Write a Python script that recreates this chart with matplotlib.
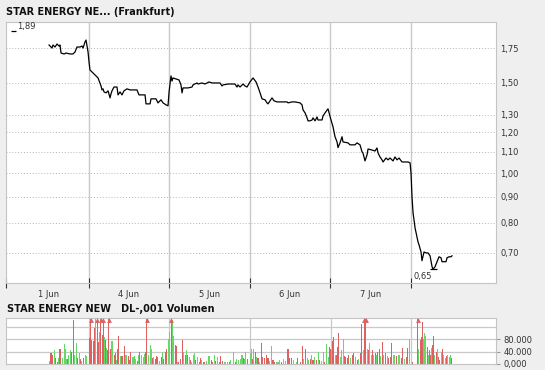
import matplotlib
matplotlib.use('Agg')
import matplotlib.pyplot as plt
from matplotlib.ticker import FixedLocator, NullLocator

plt.rcParams['font.family'] = 'DejaVu Sans'

# time axis in trading days (0 = start of 1 Jun)
day_labels = ['1 Jun', '4 Jun', '5 Jun', '6 Jun', '7 Jun']
day_edges = [1, 2, 3, 4, 5]

price_t = [0.509, 0.546, 0.558, 0.583, 0.608, 0.633, 0.645, 0.658, 0.695, 0.720,
           0.769, 0.806, 0.831, 0.856, 0.893, 0.918, 0.931, 0.955, 0.968, 0.980,
           0.993, 1.005, 1.017, 1.042, 1.067, 1.092, 1.117, 1.141, 1.154, 1.166,
           1.179, 1.191, 1.216, 1.241, 1.266, 1.278, 1.290, 1.315, 1.352, 1.365,
           1.390, 1.414, 1.439, 1.476, 1.514, 1.600, 1.625, 1.700, 1.712, 1.762,
           1.774, 1.836, 1.861, 1.898, 1.923, 1.960, 1.985, 1.998, 2.010, 2.022,
           2.035, 2.047, 2.084, 2.122, 2.146, 2.159, 2.171, 2.233, 2.283, 2.295,
           2.345, 2.357, 2.407, 2.444, 2.494, 2.531, 2.630, 2.655, 2.667, 2.730,
           2.816, 2.841, 2.854, 2.878, 2.916, 2.940, 2.965, 3.002, 3.040, 3.077,
           3.102, 3.127, 3.151, 3.189, 3.213, 3.226, 3.251, 3.275, 3.300, 3.337,
           3.412, 3.462, 3.474, 3.524, 3.561, 3.623, 3.648, 3.660, 3.685, 3.710,
           3.722, 3.747, 3.772, 3.784, 3.809, 3.834, 3.846, 3.896, 3.908, 3.933,
           3.970, 3.983, 4.007, 4.032, 4.057, 4.082, 4.094, 4.119, 4.144, 4.156,
           4.218, 4.243, 4.305, 4.330, 4.367, 4.392, 4.404, 4.429, 4.454, 4.467,
           4.516, 4.553, 4.578, 4.591, 4.615, 4.640, 4.653, 4.690, 4.715, 4.739,
           4.777, 4.801, 4.826, 4.851, 4.888, 4.938, 4.963, 4.988, 5.000, 5.012,
           5.025, 5.050, 5.074, 5.087, 5.099, 5.124, 5.136, 5.161, 5.186, 5.211,
           5.236, 5.261, 5.273, 5.298, 5.323, 5.347, 5.372, 5.385, 5.434, 5.447,
           5.471, 5.496, 5.508]
price_v = [1.776, 1.752, 1.776, 1.760, 1.784, 1.768, 1.776, 1.713, 1.706, 1.713,
           1.706, 1.706, 1.721, 1.760, 1.760, 1.768, 1.752, 1.800, 1.816, 1.768,
           1.721, 1.646, 1.588, 1.574, 1.560, 1.546, 1.532, 1.498, 1.478, 1.452,
           1.459, 1.439, 1.433, 1.446, 1.401, 1.427, 1.446, 1.471, 1.471, 1.420,
           1.439, 1.420, 1.446, 1.459, 1.452, 1.452, 1.420, 1.420, 1.364, 1.364,
           1.395, 1.395, 1.370, 1.389, 1.370, 1.358, 1.352, 1.439, 1.491, 1.546,
           1.511, 1.532, 1.525, 1.518, 1.485, 1.433, 1.465, 1.465, 1.471, 1.485,
           1.498, 1.491, 1.498, 1.491, 1.505, 1.498, 1.498, 1.478, 1.485, 1.491,
           1.491, 1.471, 1.485, 1.471, 1.491, 1.478, 1.471, 1.505, 1.532, 1.505,
           1.471, 1.433, 1.395, 1.389, 1.370, 1.364, 1.383, 1.401, 1.383, 1.376,
           1.376, 1.376, 1.370, 1.376, 1.376, 1.370, 1.358, 1.328, 1.310, 1.281,
           1.264, 1.264, 1.269, 1.281, 1.264, 1.286, 1.269, 1.269, 1.292, 1.310,
           1.334, 1.310, 1.269, 1.231, 1.177, 1.150, 1.121, 1.145, 1.177, 1.150,
           1.145, 1.135, 1.135, 1.145, 1.135, 1.100, 1.094, 1.056, 1.085, 1.114,
           1.109, 1.104, 1.119, 1.094, 1.075, 1.061, 1.051, 1.070, 1.061, 1.070,
           1.056, 1.075, 1.061, 1.070, 1.051, 1.051, 1.051, 1.047, 1.000, 0.899,
           0.837, 0.782, 0.751, 0.734, 0.725, 0.702, 0.675, 0.702, 0.699, 0.699,
           0.690, 0.657, 0.650, 0.657, 0.672, 0.687, 0.684, 0.672, 0.672, 0.684,
           0.687, 0.687, 0.690]
period_high = 1.89
price_ticks = [0.70, 0.80, 0.90, 1.00, 1.10, 1.20, 1.30, 1.50, 1.75]

vol_t = [0.509, 0.533, 0.550, 0.571, 0.592, 0.612, 0.624, 0.636, 0.654, 0.674,
         0.695, 0.707, 0.720, 0.741, 0.753, 0.769, 0.790, 0.810, 0.828, 0.844,
         0.860, 0.881, 0.897, 0.914, 0.934, 0.955, 0.971, 1.009, 1.026, 1.038,
         1.058, 1.071, 1.088, 1.104, 1.120, 1.133, 1.150, 1.166, 1.179, 1.191,
         1.203, 1.216, 1.232, 1.249, 1.266, 1.287, 1.299, 1.315, 1.328, 1.344,
         1.356, 1.368, 1.390, 1.411, 1.423, 1.439, 1.460, 1.473, 1.489, 1.505,
         1.517, 1.538, 1.555, 1.572, 1.584, 1.604, 1.622, 1.634, 1.650, 1.675,
         1.691, 1.704, 1.721, 1.741, 1.762, 1.774, 1.790, 1.808, 1.824, 1.845,
         1.857, 1.877, 1.898, 1.914, 1.927, 1.948, 1.969, 1.985, 2.006, 2.022,
         2.038, 2.051, 2.072, 2.084, 2.101, 2.113, 2.138, 2.159, 2.180, 2.196,
         2.212, 2.225, 2.246, 2.259, 2.279, 2.295, 2.312, 2.324, 2.349, 2.370,
         2.386, 2.403, 2.419, 2.435, 2.460, 2.485, 2.502, 2.519, 2.540, 2.556,
         2.577, 2.597, 2.618, 2.639, 2.659, 2.684, 2.701, 2.721, 2.742, 2.763,
         2.795, 2.816, 2.837, 2.857, 2.878, 2.900, 2.916, 2.932, 2.949, 2.965,
         3.002, 3.015, 3.031, 3.048, 3.065, 3.081, 3.098, 3.119, 3.139, 3.156,
         3.181, 3.201, 3.222, 3.242, 3.263, 3.284, 3.304, 3.325, 3.346, 3.366,
         3.387, 3.416, 3.437, 3.470, 3.486, 3.511, 3.536, 3.573, 3.589, 3.623,
         3.644, 3.664, 3.685, 3.706, 3.726, 3.747, 3.763, 3.780, 3.800, 3.821,
         3.846, 3.862, 3.887, 3.905, 3.924, 3.949, 3.967, 3.979, 3.991, 4.011,
         4.024, 4.036, 4.054, 4.070, 4.086, 4.098, 4.119, 4.132, 4.156, 4.168,
         4.181, 4.202, 4.222, 4.243, 4.265, 4.285, 4.305, 4.327, 4.347, 4.367,
         4.380, 4.401, 4.417, 4.433, 4.451, 4.467, 4.483, 4.500, 4.517, 4.533,
         4.550, 4.566, 4.583, 4.600, 4.615, 4.637, 4.657, 4.678, 4.699, 4.718,
         4.739, 4.756, 4.774, 4.790, 4.814, 4.835, 4.856, 4.876, 4.893, 4.914,
         4.934, 4.954, 4.975, 5.016, 5.078, 5.093, 5.112, 5.124, 5.140, 5.153,
         5.165, 5.177, 5.195, 5.207, 5.220, 5.236, 5.248, 5.261, 5.277, 5.289,
         5.307, 5.319, 5.339, 5.351, 5.368, 5.385, 5.401, 5.419, 5.434, 5.450,
         5.468, 5.484, 5.500]
vol_v = [8000, 34000, 30000, 45000, 19000, 6000, 19000, 50000, 47000, 19000,
         65000, 47000, 17000, 15000, 28000, 45000, 37000, 145000, 28000, 67000,
         19000, 34000, 15000, 8000, 19000, 28000, 26000, 84000, 180000, 78000,
         75000, 119000, 150000, 180000, 73000, 106000, 180000, 95000, 180000, 89000,
         78000, 53000, 45000, 180000, 50000, 75000, 75000, 30000, 34000, 12000,
         48000, 92000, 26000, 26000, 26000, 58000, 30000, 30000, 26000, 12000,
         39000, 23000, 23000, 26000, 17000, 8000, 28000, 39000, 30000, 23000,
         32000, 39000, 180000, 30000, 62000, 50000, 19000, 23000, 17000, 26000,
         23000, 8000, 23000, 37000, 17000, 37000, 50000, 82000, 106000, 180000,
         145000, 93000, 62000, 59000, 6000, 6000, 17000, 78000, 37000, 30000,
         45000, 28000, 23000, 12000, 6000, 30000, 36000, 12000, 23000, 6000,
         19000, 12000, 6000, 6000, 8000, 26000, 26000, 12000, 6000, 28000,
         8000, 23000, 6000, 26000, 8000, 6000, 6000, 6000, 6000, 12000,
         39000, 6000, 15000, 12000, 17000, 30000, 19000, 14000, 37000, 17000,
         34000, 50000, 17000, 48000, 39000, 23000, 19000, 6000, 67000, 23000,
         19000, 30000, 19000, 8000, 58000, 12000, 6000, 6000, 6000, 12000,
         6000, 17000, 8000, 48000, 19000, 19000, 12000, 6000, 19000, 6000,
         58000, 17000, 48000, 19000, 12000, 15000, 30000, 12000, 23000, 12000,
         37000, 12000, 8000, 39000, 6000, 64000, 23000, 54000, 50000, 45000,
         75000, 89000, 28000, 30000, 54000, 100000, 23000, 45000, 82000, 26000,
         23000, 19000, 28000, 19000, 30000, 34000, 23000, 12000, 17000, 34000,
         130000, 45000, 180000, 180000, 50000, 45000, 67000, 30000, 45000, 28000,
         34000, 28000, 37000, 50000, 26000, 73000, 28000, 34000, 26000, 19000,
         23000, 67000, 30000, 30000, 26000, 28000, 28000, 19000, 53000, 17000,
         23000, 53000, 82000, 6000, 180000, 50000, 78000, 89000, 137000, 82000,
         100000, 93000, 56000, 30000, 45000, 28000, 53000, 62000, 93000, 30000,
         37000, 50000, 23000, 12000, 37000, 48000, 30000, 19000, 26000, 30000,
         23000, 28000, 19000]
# g = trade up, r = trade down
vol_dir = list('grrgrrgrrg' 'gggrggrrgg' 'rgrgrggrrr' 'rrgrrgrrrg' 'rgrrrggrrg'
               'rrgrrrggrr' 'rggggrgrgg' 'grrgggrgrr' 'rgrgrrrggr' 'ggrrgrrrgr'
               'grgrgggrgr' 'rgrrgggrrg' 'rgrrrgggrg' 'grggggrggr' 'ggrgrgrgrr'
               'rrrggrrggg' 'rggrrrggrr' 'rgrggrgrgr' 'grggrggrrg' 'rrgrrrgggr'
               'rrrgrrgrgr' 'rgrrgrggrg' 'rgrrgrgrgr' 'rrggrggrrg' 'rrgrrgrrrg'
               'ggrgrrgrrg' 'rgrrgrggrg' 'ggr')
vol_ticks = [0, 40000, 80000]
vol_tick_labels = ['0,000', '40.000', '80.000']

RED = '#dc6262'
GREEN = '#66d866'
BG = '#efefef'
GRID = '#c9c9c9'

W, H = 545, 370
fig = plt.figure(figsize=(W / 100, H / 100), dpi=100)
fig.patch.set_facecolor(BG)


def box(l, t, r, b):
    return [l / W, 1 - b / H, (r - l) / W, (b - t) / H]


x_lim = (-0.025, 6.048)

# ---- price panel ----
ax = fig.add_axes(box(6, 22, 495.5, 283.3))
ax.set_yscale('log')
ax.set_xlim(*x_lim)
ax.set_ylim(0.610, 1.969)
ax.yaxis.set_major_locator(FixedLocator(price_ticks))
ax.yaxis.set_minor_locator(NullLocator())
ax.set_yticklabels([f'{v:.2f}'.replace('.', ',') for v in price_ticks])
ax.yaxis.tick_right()
ax.tick_params(axis='y', length=0, pad=3.3, labelsize=6, labelcolor='#333333')
ax.grid(axis='y', color='#b5b5b5', linestyle=(0, (1, 2)), linewidth=0.7)
for d in day_edges:
    ax.axvline(d, color=GRID, linewidth=1.0, zorder=1)

ax.set_xticks([x_lim[0]] + day_edges)
ax.set_xticklabels([])
ax.set_xticks([i + 0.5 for i in range(len(day_labels))], minor=True)
ax.set_xticklabels(day_labels, minor=True)
ax.tick_params(axis='x', which='major', direction='inout', length=7, width=0.8,
               color='#333333')
ax.tick_params(axis='x', which='minor', length=0, pad=5, labelsize=6,
               labelcolor='#333333')
for s in ax.spines.values():
    s.set_color('#c4c4c4')
    s.set_linewidth(0.8)

ax.plot(price_t, price_v, color='black', linewidth=0.9, zorder=3)

# period low / high markers
i_low = min(range(len(price_v)), key=lambda i: price_v[i])
t_low, p_low = price_t[i_low], price_v[i_low]
ax.hlines(p_low, t_low - 0.04, t_low + 0.05, color='black', linewidth=0.9)
ax.annotate(f'{p_low:.2f}'.replace('.', ','), (t_low, p_low), xytext=(-7.5, -5.5),
            textcoords='offset points', ha='center', va='center', fontsize=6,
            color='#333333')
ax.hlines(period_high, 0.037, 0.105, color='black', linewidth=0.9)
ax.annotate(f'{period_high:.2f}'.replace('.', ','), (0.105, period_high),
            xytext=(0.5, 0), textcoords='offset points', ha='left', va='bottom',
            fontsize=6, color='#333333')

# ---- volume panel ----
vx = fig.add_axes(box(6, 317.7, 496, 364.3))
vx.set_xlim(*x_lim)
v_top = 152000
vx.set_ylim(-2000, v_top)
for g in [40000, 80000, 120000]:
    vx.axhline(g, color=GRID, linewidth=0.9, zorder=0)
for d in day_edges:
    vx.axvline(d, color=GRID, linewidth=0.9, zorder=0)
colors = [GREEN if c == 'g' else RED for c in vol_dir]
vx.bar(vol_t, vol_v, width=0.013, color=colors, linewidth=0, zorder=2,
       antialiased=False)
for t, v, c in zip(vol_t, vol_v, colors):
    if v > v_top:
        vx.plot(t, v_top * 0.95, marker='^', markersize=3.5, color=c,
                markeredgewidth=0, zorder=3)
vx.set_xticks([])
vx.set_yticks(vol_ticks)
vx.set_yticklabels(vol_tick_labels)
vx.yaxis.tick_right()
vx.tick_params(axis='y', length=3, width=0.8, color='#999999', pad=2.5,
               labelsize=6, labelcolor='#333333')
for s in vx.spines.values():
    s.set_color('#c4c4c4')
    s.set_linewidth(0.8)

fig.text(6 / W, 1 - 12 / H, 'STAR ENERGY NE... (Frankfurt)', fontsize=7,
         fontweight='bold', va='center', ha='left', color='#111111')
fig.text(7 / W, 1 - 309 / H, 'STAR ENERGY NEW   DL-,001 Volumen', fontsize=7,
         fontweight='bold', va='center', ha='left', color='#111111')

fig.savefig('out.png', dpi=100, facecolor=fig.get_facecolor())
